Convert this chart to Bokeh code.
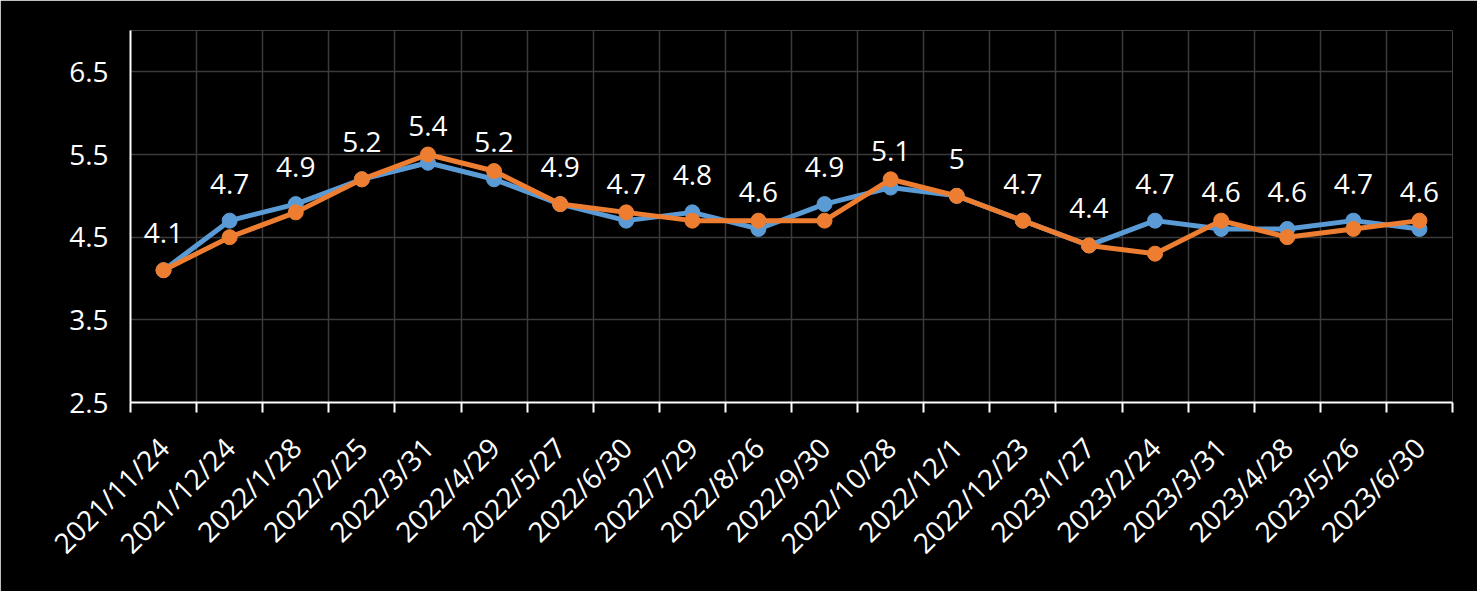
import math
from bokeh.plotting import figure
from bokeh.models import FixedTicker, Range1d, ColumnDataSource, LabelSet
from bokeh.core.properties import value
from bokeh.embed import file_html
from bokeh.resources import INLINE

dates = ["2021/11/24", "2021/12/24", "2022/1/28", "2022/2/25", "2022/3/31",
         "2022/4/29", "2022/5/27", "2022/6/30", "2022/7/29", "2022/8/26",
         "2022/9/30", "2022/10/28", "2022/12/1", "2022/12/23", "2023/1/27",
         "2023/2/24", "2023/3/31", "2023/4/28", "2023/5/26", "2023/6/30"]
blue_vals = [4.1, 4.7, 4.9, 5.2, 5.4, 5.2, 4.9, 4.7, 4.8, 4.6,
             4.9, 5.1, 5.0, 4.7, 4.4, 4.7, 4.6, 4.6, 4.7, 4.6]
orange_vals = [4.1, 4.5, 4.8, 5.2, 5.5, 5.3, 4.9, 4.8, 4.7, 4.7,
               4.7, 5.2, 5.0, 4.7, 4.4, 4.3, 4.7, 4.5, 4.6, 4.7]
blue_labels = ["4.1", "4.7", "4.9", "5.2", "5.4", "5.2", "4.9", "4.7", "4.8", "4.6",
               "4.9", "5.1", "5", "4.7", "4.4", "4.7", "4.6", "4.6", "4.7", "4.6"]
y_ticks = [2.5, 3.5, 4.5, 5.5, 6.5]

FONT = "Open Sans"
FSIZE = "28px"
BLUE = "#5B9BD5"
ORANGE = "#ED7D31"

n = len(dates)
xs = list(range(n))
centers = [float(i) for i in xs]
bounds = [i - 0.5 for i in range(n + 1)]

src = ColumnDataSource(dict(x=xs, blue=blue_vals, orange=orange_vals, lab=blue_labels))

p = figure(width=1477, height=591, output_backend="svg", toolbar_location=None,
           x_range=Range1d(-0.5, n - 0.5), y_range=Range1d(2.5, 7.0),
           min_border_left=130, min_border_right=25, min_border_top=30,
           min_border_bottom=189)
p.background_fill_color = "black"
p.border_fill_color = "black"
p.outline_line_color = None

# grids
p.xgrid.ticker = FixedTicker(ticks=bounds)
p.ygrid.ticker = FixedTicker(ticks=y_ticks)
for g in (p.xgrid, p.ygrid):
    g.grid_line_color = "#3a3a3a"
    g.grid_line_width = 1.5

# x axis
p.xaxis.ticker = FixedTicker(ticks=centers, minor_ticks=bounds)
p.xaxis.major_label_overrides = {i: d for i, d in enumerate(dates)}
p.xaxis.major_tick_out = 0
p.xaxis.major_tick_in = 0
p.xaxis.minor_tick_out = 10
p.xaxis.minor_tick_in = 0
p.xaxis.minor_tick_line_color = "white"
p.xaxis.minor_tick_line_width = 2
p.xaxis.axis_line_color = "white"
p.xaxis.axis_line_width = 2
p.xaxis.major_label_orientation = math.pi / 4
p.xaxis.major_label_standoff = 30
p.xaxis.major_label_text_color = "white"
p.xaxis.major_label_text_font = FONT
p.xaxis.major_label_text_font_size = FSIZE

# y axis
p.yaxis.ticker = FixedTicker(ticks=y_ticks)
p.yaxis.major_tick_out = 0
p.yaxis.major_tick_in = 0
p.yaxis.minor_tick_line_color = None
p.yaxis.axis_line_color = "white"
p.yaxis.axis_line_width = 2
p.yaxis.major_label_standoff = 22
p.yaxis.major_label_text_color = "white"
p.yaxis.major_label_text_font = FONT
p.yaxis.major_label_text_font_size = FSIZE

# series
p.line("x", "blue", source=src, line_color=BLUE, line_width=5)
p.scatter("x", "blue", source=src, size=15, fill_color=BLUE, line_color=BLUE)
p.line("x", "orange", source=src, line_color=ORANGE, line_width=5)
p.scatter("x", "orange", source=src, size=15, fill_color=ORANGE, line_color=ORANGE)

labels = LabelSet(x="x", y="blue", text="lab", source=src, y_offset=27,
                  text_align="center", text_baseline="alphabetic",
                  text_color="white", text_font=value(FONT), text_font_size=value(FSIZE))
p.add_layout(labels)

open("out.html", "w").write(file_html(p, INLINE))
